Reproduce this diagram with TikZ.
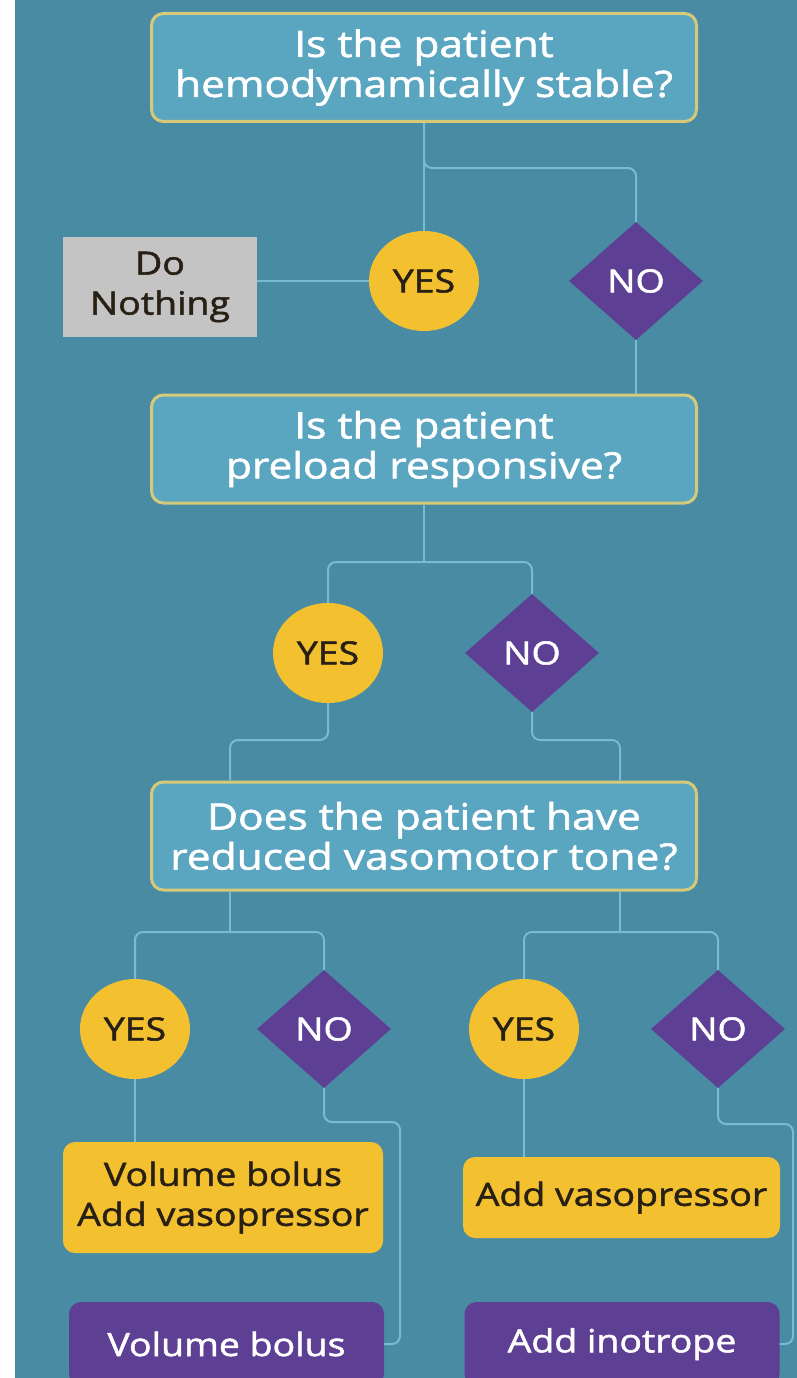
\documentclass[tikz,border=0pt]{standalone}
\usepackage{fontspec}
\setmainfont{Open Sans}[FakeStretch=1.17,FakeBold=1.6]
\usetikzlibrary{shapes.geometric}

\definecolor{bgteal}{RGB}{74,139,164}
\definecolor{qfill}{RGB}{90,165,192}
\definecolor{qborder}{RGB}{214,202,122}
\definecolor{linkblue}{RGB}{118,188,213}
\definecolor{yesyellow}{RGB}{243,192,48}
\definecolor{nopurple}{RGB}{93,63,148}
\definecolor{nothinggray}{RGB}{196,196,196}
\definecolor{darktext}{RGB}{40,32,20}

\begin{document}
\begin{tikzpicture}[x=1pt,y=-1pt,
   every node/.style={font=\fontsize{32}{40}\selectfont,align=center,inner sep=0pt},
   question/.style={draw=qborder,line width=3pt,fill=qfill,rounded corners=12pt,
      text=white,font=\fontsize{36.3}{40}\selectfont,minimum width=545pt,minimum height=108pt},
   yesnode/.style={ellipse,fill=yesyellow,text=darktext,minimum width=110pt,minimum height=100pt},
   nonode/.style={diamond,fill=nopurple,text=white,minimum width=134pt,minimum height=118pt},
   actionbox/.style={fill=yesyellow,text=darktext,rounded corners=12pt},
   finalbox/.style={fill=nopurple,text=white,rounded corners=12pt,minimum width=315pt,minimum height=84pt},
   link/.style={draw=linkblue,line width=2pt,rounded corners=8pt}]
\useasboundingbox (0,0) rectangle (797,1378);
\clip (0,0) rectangle (797,1378);
\fill[bgteal] (15,0) rectangle (797,1378);

\node[question] (box1) at (424,67.5) {Is the patient\\hemodynamically stable?};
\node[yesnode] (yes1) at (424,281) {YES};
\node[nonode] (no1) at (636,281) {NO};
\node[fill=nothinggray,text=darktext,minimum width=194pt,minimum height=100pt] (dn) at (160,287) {Do\\Nothing};
\node[question] (box2) at (424,449) {Is the patient\\preload responsive?};
\node[yesnode] (yes2) at (328,653) {YES};
\node[nonode] (no2) at (532,653) {NO};
\node[question] (box3) at (424,836) {Does the patient have\\reduced vasomotor tone?};
\node[yesnode] (yes3) at (135,1029) {YES};
\node[nonode] (no3) at (324,1029) {NO};
\node[yesnode] (yes4) at (524,1029) {YES};
\node[nonode] (no4) at (718,1029) {NO};
\node[actionbox,minimum width=320pt,minimum height=111pt] (boxA) at (223,1197.5) {Volume bolus\\Add vasopressor};
\node[actionbox,minimum width=317pt,minimum height=81pt] (boxC) at (621.5,1197.5) {Add vasopressor};
\node[finalbox] (boxB) at (226.5,1344) {Volume bolus};
\node[finalbox] (boxD) at (622,1344) {Add inotrope};

\coordinate (j1) at (424,168);
\coordinate (j2) at (424,562);
\coordinate (j3) at (230,740);
\coordinate (j4) at (620,740);
\coordinate (j5) at (230,932);
\coordinate (j6) at (620,932);
\coordinate (j7) at (400,1122);
\coordinate (j8) at (793,1124);

\draw[link] (box1.south) -- (yes1.north);
\draw[link] (box1.south) |- (j1 -| no1.north) -- (no1.north);
\draw[link] (yes1.west) -- (yes1.west -| dn.east);
\draw[link] (no1.south) -- (no1.south |- box2.north);
\draw[link] (box2.south) -- (j2);
\draw[link] (yes2.north) |- (j2) -| (no2.north);
\draw[link] (yes2.south) |- (j3) -- (j3 |- box3.north);
\draw[link] (no2.south) |- (j4) -- (j4 |- box3.north);
\draw[link] (j5 |- box3.south) -- (j5);
\draw[link] (yes3.north) |- (j5) -| (no3.north);
\draw[link] (j6 |- box3.south) -- (j6);
\draw[link] (yes4.north) |- (j6) -| (no4.north);
\draw[link] (yes3.south) -- (yes3.south |- boxA.north);
\draw[link] (no3.south) |- (j7) |- (boxB.east);
\draw[link] (yes4.south) -- (yes4.south |- boxC.north);
\draw[link] (no4.south) |- (j8) |- (boxD.east);
\end{tikzpicture}
\end{document}
